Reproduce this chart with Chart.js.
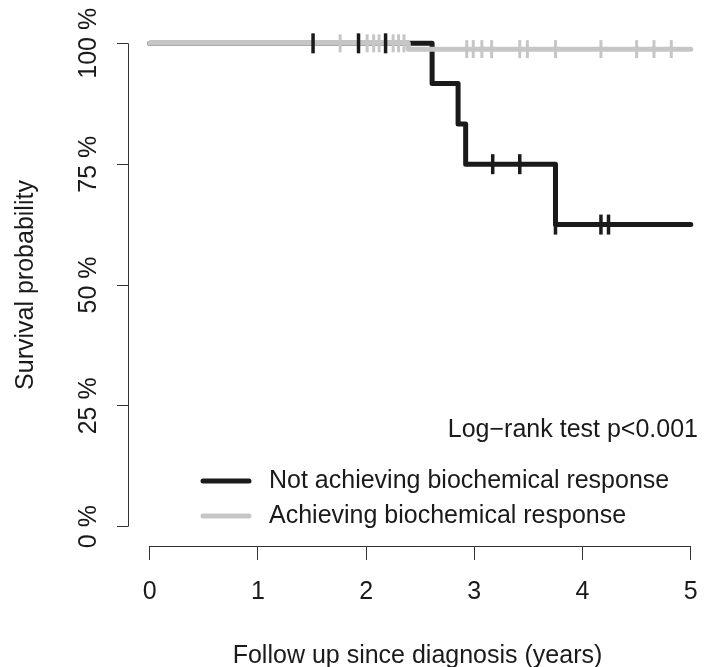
<!DOCTYPE html>
<html>
<head>
<meta charset="utf-8">
<script src="https://cdn.jsdelivr.net/npm/chart.js@4.4.1/dist/chart.umd.min.js"></script>
<style>
  html, body { margin: 0; padding: 0; background: #fff; }
  #wrap { width: 707px; height: 667px; }
</style>
</head>
<body>
<div id="wrap"><canvas id="km" width="707" height="667"></canvas></div>
<script>
// Kaplan-Meier curves (time in years, survival 0..1)
const notTimes = [0, 2.61, 2.85, 2.92, 3.75, 5];
const notSurv = [1, 0.917, 0.833, 0.75, 0.625, 0.625];
const notCensorTimes = [1.51, 1.93, 2.18, 3.17, 3.42, 3.75, 4.17, 4.24];
const notCensorSurv = [1, 1, 1, 0.75, 0.75, 0.625, 0.625, 0.625];

const achTimes = [0, 2.39, 5];
const achSurv = [1, 0.988, 0.988];
const achCensorTimes = [1.76, 2.01, 2.07, 2.12, 2.25, 2.30, 2.35,
  2.93, 2.99, 3.07, 3.16, 3.42, 3.49, 3.75, 4.17, 4.50, 4.66, 4.82];
const achCensorSurv = [1, 1, 1, 1, 1, 1, 1,
  0.988, 0.988, 0.988, 0.988, 0.988, 0.988, 0.988, 0.988, 0.988, 0.988, 0.988];

const seriesNames = ['Not achieving biochemical response', 'Achieving biochemical response'];
const xTicks = [0, 1, 2, 3, 4, 5];
const yTicks = [0, 0.25, 0.5, 0.75, 1];
const pText = 'Log\u2212rank test p<0.001';

const BLACK = '#1a1a1a';
const GREY = '#c6c6c6';
const FONT = "'Liberation Sans', Arial, Helvetica, sans-serif";

function pts(xs, ys) {
  return xs.map((x, i) => ({ x: x, y: ys[i] }));
}

// R style axes: line only from first to last tick, plus legend and test text
const rDecor = {
  id: 'rDecor',
  afterDraw(chart) {
    const ctx = chart.ctx;
    const xs = chart.scales.x, ys = chart.scales.y;
    const area = chart.chartArea;
    ctx.save();
    ctx.strokeStyle = '#333';
    ctx.lineWidth = 1;
    ctx.beginPath();
    ctx.moveTo(xs.getPixelForValue(xTicks[0]), area.bottom + 0.5);
    ctx.lineTo(xs.getPixelForValue(xTicks[xTicks.length - 1]), area.bottom + 0.5);
    ctx.moveTo(area.left + 0.5, ys.getPixelForValue(yTicks[0]));
    ctx.lineTo(area.left + 0.5, ys.getPixelForValue(yTicks[yTicks.length - 1]));
    ctx.stroke();

    ctx.font = '25px ' + FONT;
    ctx.fillStyle = BLACK;
    ctx.textBaseline = 'middle';
    ctx.textAlign = 'right';
    ctx.fillText(pText, 698, 430);

    // legend
    const rows = [
      { label: seriesNames[0], color: BLACK, y: 481 },
      { label: seriesNames[1], color: GREY, y: 516 }
    ];
    ctx.textAlign = 'left';
    ctx.lineCap = 'round';
    rows.forEach(r => {
      ctx.strokeStyle = r.color;
      ctx.lineWidth = 5;
      ctx.beginPath();
      ctx.moveTo(203, r.y);
      ctx.lineTo(249, r.y);
      ctx.stroke();
      ctx.fillStyle = BLACK;
      ctx.fillText(r.label, 269, r.y);
    });
    ctx.restore();
  }
};

new Chart(document.getElementById('km'), {
  type: 'scatter',
  data: {
    datasets: [
      {
        label: seriesNames[0],
        type: 'line',
        data: pts(notTimes, notSurv),
        stepped: 'before',
        borderColor: BLACK,
        borderWidth: 5,
        borderCapStyle: 'round',
        borderJoinStyle: 'round',
        pointRadius: 0,
        fill: false,
        order: 4
      },
      {
        label: seriesNames[1],
        type: 'line',
        data: pts(achTimes, achSurv),
        stepped: 'before',
        borderColor: GREY,
        borderWidth: 5,
        borderCapStyle: 'round',
        borderJoinStyle: 'round',
        pointRadius: 0,
        fill: false,
        order: 3
      },
      {
        label: 'censored (achieving)',
        data: pts(achCensorTimes, achCensorSurv),
        pointStyle: 'line',
        rotation: 90,
        pointRadius: 9,
        borderWidth: 3,
        borderColor: GREY,
        order: 2
      },
      {
        label: 'censored (not achieving)',
        data: pts(notCensorTimes, notCensorSurv),
        pointStyle: 'line',
        rotation: 90,
        pointRadius: 10,
        borderWidth: 3.5,
        borderColor: BLACK,
        order: 1
      }
    ]
  },
  options: {
    responsive: false,
    animation: false,
    devicePixelRatio: 1,
    clip: false,
    layout: { autoPadding: false, padding: { top: 24, right: 0, left: 0, bottom: 0 } },
    plugins: {
      legend: { display: false },
      tooltip: { enabled: false }
    },
    scales: {
      x: {
        type: 'linear',
        min: -0.2,
        max: 5.15,
        afterBuildTicks: s => { s.ticks = xTicks.map(v => ({ value: v })); },
        afterFit: s => { s.height = 121; },
        border: { display: false },
        grid: { drawOnChartArea: false, drawTicks: true, tickLength: 14, color: '#333' },
        ticks: {
          autoSkip: false,
          maxRotation: 0,
          padding: 0,
          color: BLACK,
          // tall line box pushes the labels down like R's axis line offset
          font: { family: FONT, size: 25, lineHeight: 2.56 }
        },
        title: {
          display: true,
          text: 'Follow up since diagnosis (years)',
          color: BLACK,
          font: { family: FONT, size: 25, lineHeight: 1 },
          padding: { top: 0, bottom: -2 }
        }
      },
      y: {
        type: 'linear',
        min: -0.04,
        max: 1.04,
        afterBuildTicks: s => { s.ticks = yTicks.map(v => ({ value: v })); },
        afterFit: s => { s.width = 128; },
        border: { display: false },
        grid: { drawOnChartArea: false, drawTicks: true, tickLength: 11, color: '#333' },
        ticks: {
          autoSkip: false,
          minRotation: 90,
          maxRotation: 90,
          crossAlign: 'center',
          padding: -8,
          color: BLACK,
          font: { family: FONT, size: 25 },
          callback: v => Math.round(v * 100) + ' %'
        },
        title: {
          display: true,
          text: 'Survival probability',
          color: BLACK,
          font: { family: FONT, size: 25, lineHeight: 1 },
          padding: { top: 14, bottom: 0 }
        }
      }
    }
  },
  plugins: [rDecor]
});
</script>
</body>
</html>
